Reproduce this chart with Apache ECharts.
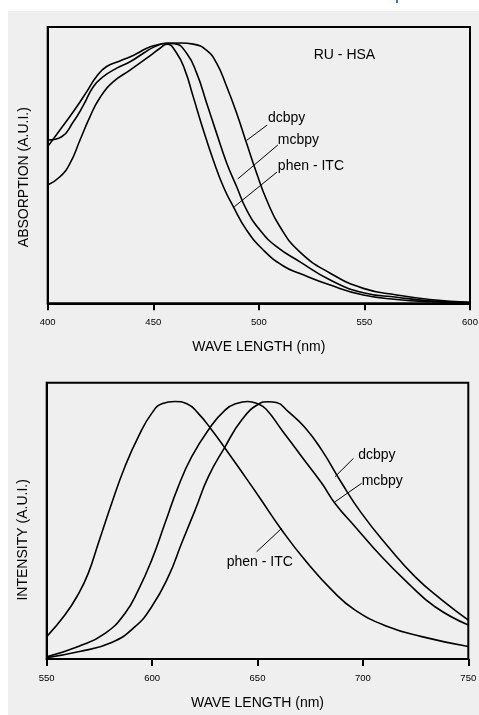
<!DOCTYPE html>
<html>
<head>
<meta charset="utf-8">
<script src="https://cdn.jsdelivr.net/npm/echarts@6/dist/echarts.min.js"></script>
<style>
html, body { margin: 0; padding: 0; background: #fff; }
#panel { position: absolute; left: 8px; top: 11px; width: 471px; height: 704px; background: #efefef; }
#blue { position: absolute; left: 396px; top: 0; width: 2px; height: 3px; background: #3f6fd6; }
#main { position: absolute; left: 0; top: 0; width: 479px; height: 715px; }
</style>
</head>
<body>
<div id="panel"></div>
<div id="blue"></div>
<div id="main"></div>
<script>
'use strict';
/* Ru-HSA absorption and emission spectra */

// absorption (top panel), [wavelength nm, relative value]
var absDcbpy = [[400,0.591],[406.6,0.603],[412,0.655],[417,0.718],[421.6,0.784],[426.3,0.82],[432.7,0.851],[439,0.874],[445.3,0.905],[450.8,0.929],[456.4,0.941],[463,0.942],[469,0.938],[475.3,0.915],[480,0.869],[484.8,0.784],[489.5,0.688],[494.2,0.579],[499,0.47],[503.7,0.374],[510,0.277],[519.5,0.185],[533.8,0.109],[549.5,0.054],[565.3,0.03],[581,0.014],[600,0.004]];
var absMcbpy = [[400,0.567],[405.8,0.627],[412.1,0.693],[418.5,0.766],[423.2,0.822],[427.9,0.857],[434.2,0.877],[440.5,0.897],[446.9,0.923],[451.6,0.935],[456.4,0.941],[460,0.94],[465.8,0.905],[470.6,0.832],[475.3,0.724],[480,0.615],[484.8,0.507],[489.5,0.422],[494.2,0.338],[500.5,0.265],[508.4,0.205],[519.5,0.15],[533.8,0.084],[549.5,0.038],[565.3,0.022],[581,0.009],[600,0.003]];
var absPhen = [[400,0.428],[405.8,0.458],[410.6,0.507],[415.3,0.591],[420,0.675],[424.8,0.745],[431.1,0.802],[439,0.844],[446.9,0.887],[453.2,0.923],[456.4,0.938],[461.1,0.905],[465,0.844],[468.9,0.748],[473.7,0.627],[478.4,0.519],[483.2,0.422],[487.9,0.35],[494.2,0.265],[502.1,0.193],[511.6,0.135],[519.5,0.108],[533.8,0.066],[549.5,0.03],[565.3,0.014],[581,0.006],[600,0.002]];

// emission (bottom panel)
var emDcbpy = [[550,0.005],[565,0.026],[580.8,0.06],[591.9,0.117],[599.8,0.189],[607.7,0.298],[614,0.419],[620.4,0.539],[626.7,0.66],[634.6,0.768],[642.5,0.865],[650.4,0.922],[655.1,0.931],[659,0.928],[664.6,0.895],[672.5,0.838],[680.5,0.756],[690,0.636],[699.4,0.527],[712,0.406],[724.7,0.298],[737.4,0.214],[750,0.141]];
var emMcbpy = [[550,0.008],[565,0.045],[577.7,0.093],[587.1,0.165],[593.5,0.25],[599.8,0.358],[606.1,0.491],[612.4,0.624],[618.8,0.732],[626.7,0.829],[634.6,0.901],[640.5,0.926],[645.3,0.932],[650,0.924],[654,0.905],[661.5,0.829],[671,0.732],[680.5,0.636],[686.8,0.563],[696.3,0.479],[708.9,0.37],[721.5,0.274],[734.2,0.189],[750,0.123]];
var emPhen = [[550,0.081],[558.7,0.16],[565,0.235],[569.7,0.31],[574.5,0.419],[580.8,0.563],[587.1,0.696],[593.5,0.805],[599.8,0.889],[605,0.925],[610.8,0.932],[616.5,0.924],[621.9,0.889],[628.3,0.829],[634.6,0.763],[644.1,0.66],[651.2,0.582],[661.5,0.467],[672.5,0.358],[685.2,0.25],[696.3,0.177],[712,0.117],[727.9,0.081],[750,0.045]];

// curve labels: [text, text anchor, leader start, leader end] in data units
var absLabels = [
  ['dcbpy', [504.3, 0.671], [503.9, 0.645], [494.3, 0.59]],
  ['mcbpy', [509, 0.591], [509, 0.573], [490, 0.45]],
  ['phen - ITC', [509, 0.497], [508.6, 0.475], [488.3, 0.349]]
];
var emLabels = [
  ['dcbpy', [697.8, 0.738], [695.5, 0.726], [686.8, 0.66]],
  ['mcbpy', [699.4, 0.642], [699.4, 0.636], [686.8, 0.569]],
  ['phen - ITC', [635.4, 0.35], [649.6, 0.388], [661.5, 0.473]]
];

var FONT = '"Liberation Sans", Arial, sans-serif';

var chart = echarts.init(document.getElementById('main'));

function xAxisOpt(idx, min, max) {
  return {
    type: 'value', gridIndex: idx, min: min, max: max, interval: 50,
    name: 'WAVE LENGTH (nm)', nameLocation: 'middle', nameGap: 37,
    nameTextStyle: { color: '#000', fontSize: 14, fontFamily: FONT },
    axisLine: { show: true, lineStyle: { color: '#000', width: 2 } },
    axisTick: { show: true, inside: false, length: 7, lineStyle: { color: '#000', width: 2 } },
    axisLabel: { color: '#000', fontSize: 9.5, fontFamily: FONT, margin: 14, showMinLabel: true, showMaxLabel: true },
    splitLine: { show: false }
  };
}

function yAxisOpt(idx, name, pad) {
  return {
    type: 'value', gridIndex: idx, min: 0, max: 1,
    name: name, nameLocation: 'middle', nameGap: 17,
    nameTextStyle: { color: '#000', fontSize: 14, fontFamily: FONT, padding: [0, pad, 0, 0] },
    axisLine: { show: true, lineStyle: { color: '#000', width: 2 } },
    axisTick: { show: false },
    axisLabel: { show: false },
    splitLine: { show: false }
  };
}

function lineSeries(idx, name, data) {
  return {
    type: 'line', name: name, xAxisIndex: idx, yAxisIndex: idx,
    data: data, showSymbol: false, smooth: 0.5,
    lineStyle: { color: '#000', width: 1.6 },
    silent: true
  };
}

chart.setOption({
  backgroundColor: 'transparent',
  animation: false,
  grid: [
    { left: 47.7, top: 27, right: 9, bottom: 411.7, show: true, borderColor: '#000', borderWidth: 2, outerBoundsMode: 'none' },
    { left: 46.7, top: 382.7, right: 10.7, bottom: 56, show: true, borderColor: '#000', borderWidth: 2, outerBoundsMode: 'none' }
  ],
  xAxis: [xAxisOpt(0, 400, 600), xAxisOpt(1, 550, 750)],
  yAxis: [yAxisOpt(0, 'ABSORPTION (A.U.I.)', 24), yAxisOpt(1, 'INTENSITY (A.U.I.)', 38)],
  series: [
    lineSeries(0, 'dcbpy', absDcbpy),
    lineSeries(0, 'mcbpy', absMcbpy),
    lineSeries(0, 'phen - ITC', absPhen),
    lineSeries(1, 'dcbpy', emDcbpy),
    lineSeries(1, 'mcbpy', emMcbpy),
    lineSeries(1, 'phen - ITC', emPhen)
  ]
});

// labels and leader lines, placed through the axes
var elements = [];
function addLabels(g, list) {
  list.forEach(function(l) {
    var t = chart.convertToPixel({ gridIndex: g }, l[1]);
    var a = chart.convertToPixel({ gridIndex: g }, l[2]);
    var b = chart.convertToPixel({ gridIndex: g }, l[3]);
    elements.push({ type: 'text', x: t[0], y: t[1], style: { text: l[0], fill: '#000', font: '14px ' + FONT, align: 'left', verticalAlign: 'middle' } });
    elements.push({ type: 'line', shape: { x1: a[0], y1: a[1], x2: b[0], y2: b[1] }, style: { stroke: '#000', lineWidth: 1 } });
  });
}
addLabels(0, absLabels);
addLabels(1, emLabels);
var ru = chart.convertToPixel({ gridIndex: 0 }, [526, 0.899]);
elements.push({ type: 'text', x: ru[0], y: ru[1], style: { text: 'RU - HSA', fill: '#000', font: '14px ' + FONT, align: 'left', verticalAlign: 'middle' } });
chart.setOption({ graphic: elements });
</script>
</body>
</html>
